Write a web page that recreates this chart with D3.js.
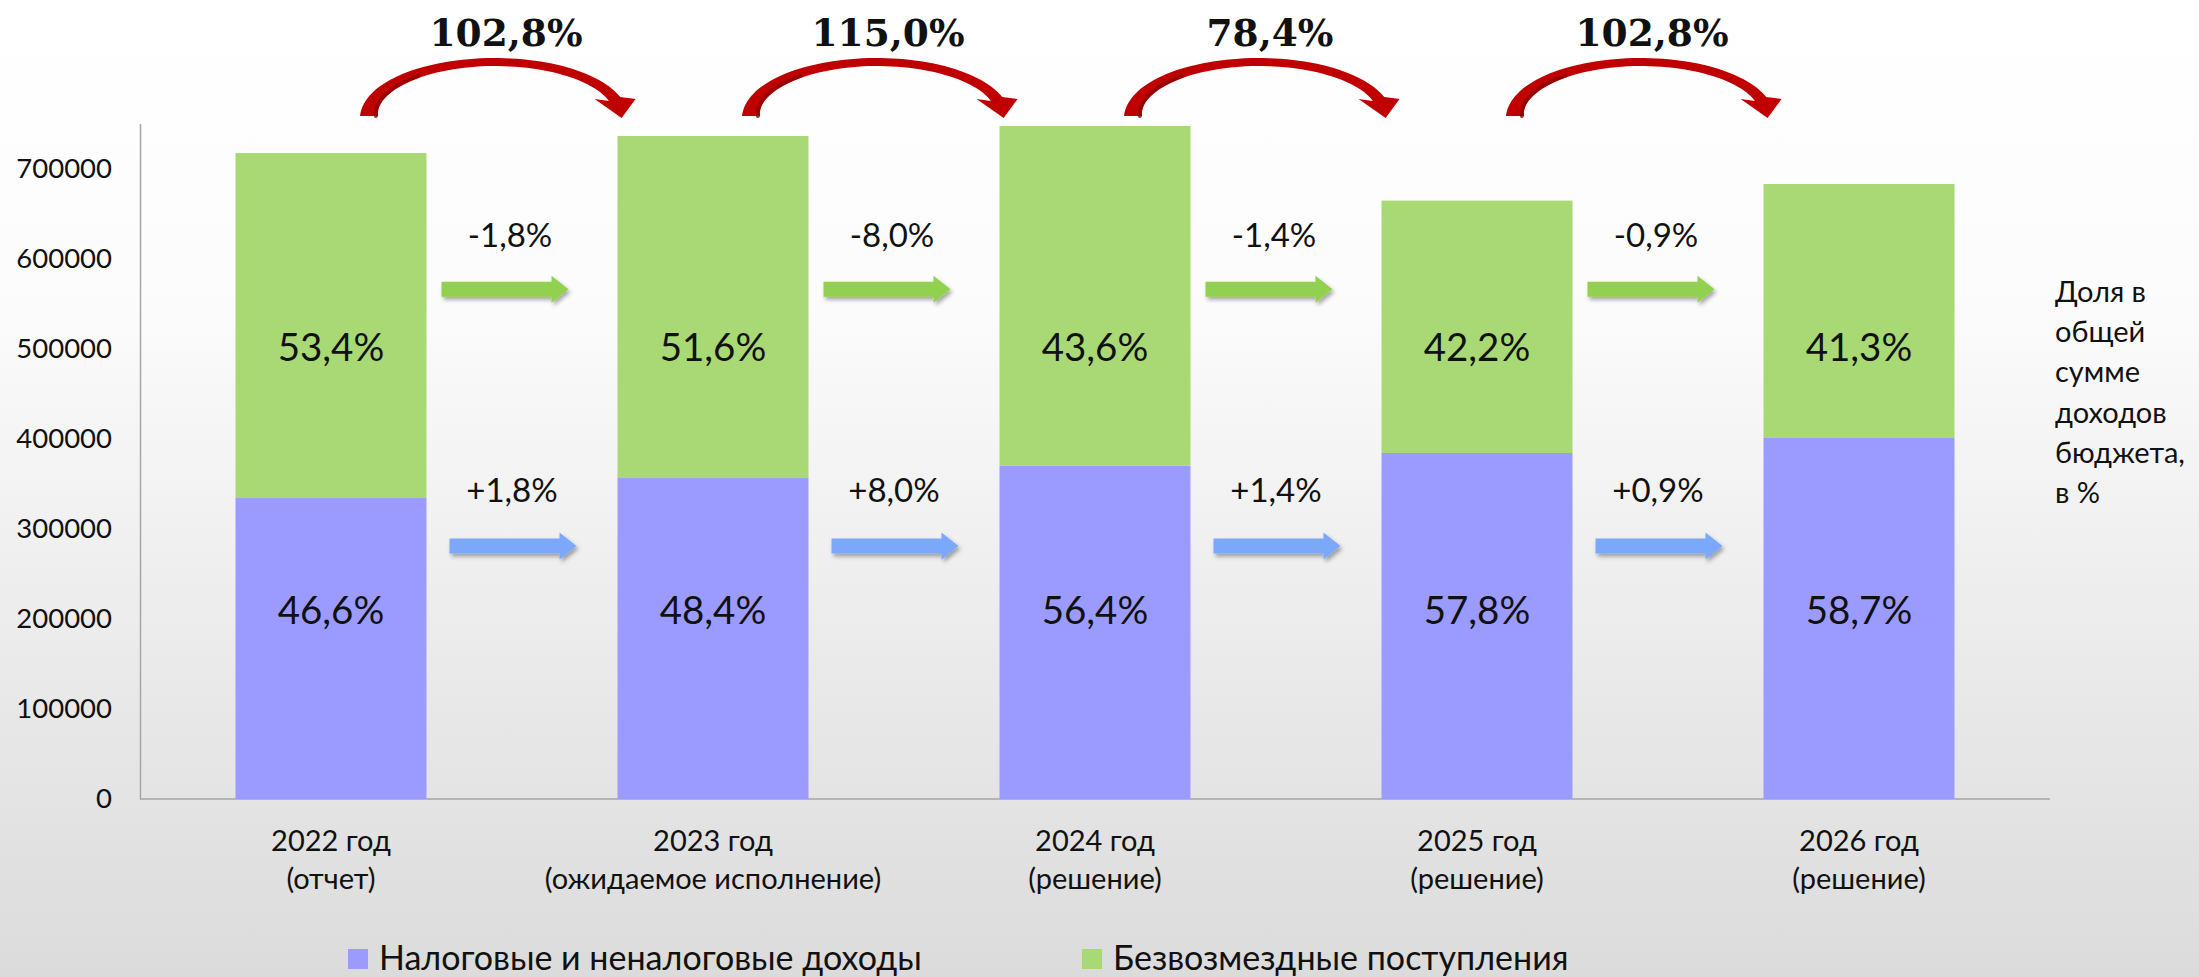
<!DOCTYPE html>
<html><head><meta charset="utf-8">
<script src="https://cdn.jsdelivr.net/npm/d3@7"></script>
<style>html,body{margin:0;padding:0;background:#fff;} svg{display:block;}</style>
</head><body>
<script>
// ---------- data ----------
const catLine1 = ["2022 год", "2023 год", "2024 год", "2025 год", "2026 год"];
const catLine2 = ["(отчет)", "(ожидаемое исполнение)", "(решение)", "(решение)", "(решение)"];
const taxRevenue = [334100, 356300, 370100, 384100, 400800];   // Налоговые и неналоговые доходы
const grantRevenue = [383000, 379700, 377000, 280200, 281900]; // Безвозмездные поступления
const taxShare = ["46,6%", "48,4%", "56,4%", "57,8%", "58,7%"];
const grantShare = ["53,4%", "51,6%", "43,6%", "42,2%", "41,3%"];
const grantChange = ["-1,8%", "-8,0%", "-1,4%", "-0,9%"];
const taxChange = ["+1,8%", "+8,0%", "+1,4%", "+0,9%"];
const totalGrowth = ["102,8%", "115,0%", "78,4%", "102,8%"];
const yTicks = [0, 100000, 200000, 300000, 400000, 500000, 600000, 700000];
const seriesNames = ["Налоговые и неналоговые доходы", "Безвозмездные поступления"];
const sideNote = ["Доля в", "общей", "сумме", "доходов", "бюджета,", "в %"];

// ---------- setup ----------
const W = 2199, H = 977;
const FONT = "Lato, 'Open Sans', sans-serif";
const colTax = "#9b9bff", colGrant = "#a9d974";
const colTaxArrow = "#7ba8fb", colGrantArrow = "#92d050", colRed = "#c00000";

const svg = d3.select("body").append("svg").attr("width", W).attr("height", H);
const defs = svg.append("defs");
const bg = defs.append("linearGradient").attr("id", "bg").attr("x1", 0).attr("y1", 0).attr("x2", 0).attr("y2", 1);
bg.append("stop").attr("offset", "0%").attr("stop-color", "#ffffff");
bg.append("stop").attr("offset", "30%").attr("stop-color", "#fcfcfc");
bg.append("stop").attr("offset", "100%").attr("stop-color", "#dbdbdb");
const sh = defs.append("filter").attr("id", "sh").attr("x", "-10%").attr("y", "-50%").attr("width", "130%").attr("height", "250%");
sh.append("feDropShadow").attr("dx", 2).attr("dy", 3).attr("stdDeviation", 2).attr("flood-color", "#000").attr("flood-opacity", 0.35);

svg.append("rect").attr("width", W).attr("height", H).attr("fill", "url(#bg)");

const x = d3.scaleBand().domain(catLine1).range([140, 2050]).paddingInner(0.5).paddingOuter(0.25);
const y = d3.scaleLinear().domain([0, 750000]).range([799, 123.4]);

// ---------- axes ----------
const yAxis = svg.append("g").attr("transform", "translate(140,0)")
  .call(d3.axisLeft(y).tickValues(yTicks).tickSize(0).tickPadding(28).tickFormat(d3.format("d")));
yAxis.select(".domain").attr("stroke", "#a6a6a6").attr("stroke-width", 1.5);
yAxis.selectAll("text").attr("font-family", FONT).attr("font-size", 27.5).attr("fill", "#111");

svg.append("line").attr("x1", 140).attr("x2", 2050).attr("y1", y(0)).attr("y2", y(0))
  .attr("stroke", "#a6a6a6").attr("stroke-width", 1.5);

// ---------- bars ----------
const rows = catLine1.map((c, i) => ({cat: c, tax: taxRevenue[i], grant: grantRevenue[i]}));
const stack = d3.stack().keys(["tax", "grant"])(rows);
const colors = [colTax, colGrant];
svg.append("g").selectAll("g").data(stack).join("g").attr("fill", (d, i) => colors[i])
  .selectAll("rect").data(d => d).join("rect")
  .attr("x", d => x(d.data.cat)).attr("width", x.bandwidth())
  .attr("y", d => y(d[1])).attr("height", d => y(d[0]) - y(d[1]));

// share labels
const cx = c => x(c) + x.bandwidth() / 2;
svg.append("g").selectAll("text").data(taxShare).join("text")
  .attr("x", (d, i) => cx(catLine1[i])).attr("y", y(210000)).attr("dy", "0.36em")
  .attr("text-anchor", "middle").attr("font-family", FONT).attr("font-size", 38.5).attr("fill", "#111").text(d => d);
svg.append("g").selectAll("text").data(grantShare).join("text")
  .attr("x", (d, i) => cx(catLine1[i])).attr("y", y(502000)).attr("dy", "0.36em")
  .attr("text-anchor", "middle").attr("font-family", FONT).attr("font-size", 38.5).attr("fill", "#111").text(d => d);

// ---------- category labels ----------
const xl = svg.append("g").selectAll("text").data(catLine1).join("text")
  .attr("text-anchor", "middle").attr("font-family", FONT).attr("font-size", 29).attr("fill", "#111");
xl.append("tspan").attr("x", d => cx(d)).attr("y", 851).text(d => d);
xl.append("tspan").attr("x", d => cx(d)).attr("y", 889).text((d, i) => catLine2[i]);

// ---------- change arrows between bars ----------
const gap = i => x(catLine1[i + 1]) - (x.step() - x.bandwidth()) / 2; // boundary between bars
function straightArrow(g, xc, yc, color) {
  const L = 127, hl = 17, st = 15, hh = 27;
  const x0 = xc - L / 2, x1 = xc + L / 2;
  g.append("path").attr("filter", "url(#sh)").attr("fill", color)
    .attr("d", `M${x0},${yc - st / 2}H${x1 - hl}V${yc - hh / 2}L${x1},${yc}L${x1 - hl},${yc + hh / 2}V${yc + st / 2}H${x0}Z`);
}
const ga = svg.append("g");
grantChange.forEach((t, i) => {
  straightArrow(ga, gap(i) - 17, y(566000), colGrantArrow);
  ga.append("text").attr("x", gap(i) - 12).attr("y", y(566000) - 42).attr("text-anchor", "middle")
    .attr("font-family", FONT).attr("font-size", 33).attr("fill", "#111").text(t);
});
taxChange.forEach((t, i) => {
  straightArrow(ga, gap(i) - 9, y(281000), colTaxArrow);
  ga.append("text").attr("x", gap(i) - 10).attr("y", y(281000) - 44).attr("text-anchor", "middle")
    .attr("font-family", FONT).attr("font-size", 33).attr("fill", "#111").text(t);
});

// ---------- curved red arrows on top ----------
function curvedArrow(g, ccx, ccy) {
  const rx = 126, ry = 54;
  const te = Math.asin(17 / ry);
  const thick = th => th >= Math.PI / 2
    ? 8 + 10 * Math.pow((th - Math.PI / 2) / (Math.PI / 2), 2)
    : 8 + 4 * Math.pow((Math.PI / 2 - th) / (Math.PI / 2 - te), 2);
  const N = 60, outer = [], inner = [];
  for (let k = 0; k <= N; k++) {
    const th = Math.PI - (Math.PI - te) * k / N;
    const t = thick(th) / 2;
    outer.push([ccx + (rx + t) * Math.cos(th), ccy - (ry + t) * Math.sin(th)]);
    inner.push([ccx + (rx - t) * Math.cos(th), ccy - (ry - t) * Math.sin(th)]);
  }
  const xc = ccx + rx * Math.cos(te), yb = ccy - ry * Math.sin(te);
  const p = d3.path();
  p.moveTo(...outer[0]);
  outer.forEach(pt => p.lineTo(...pt));
  p.lineTo(xc + 21, yb); p.lineTo(xc + 7, yb + 19); p.lineTo(xc - 20, yb);
  inner.slice().reverse().forEach(pt => p.lineTo(...pt));
  p.closePath();
  g.append("path").attr("d", p.toString()).attr("fill", colRed);
  // darker inner streak (3D look)
  const s = d3.path(), M = 20;
  for (let k = 0; k <= M; k++) {
    const th = Math.PI - 0.9 * k / M;
    const t = thick(th) / 2;
    const a = [ccx + (rx - t + 2) * Math.cos(th), ccy - (ry - t + 2) * Math.sin(th)];
    k === 0 ? s.moveTo(...a) : s.lineTo(...a);
  }
  g.append("path").attr("d", s.toString()).attr("fill", "none").attr("stroke", "#8e0000")
    .attr("stroke-width", 4).attr("stroke-linecap", "round").attr("opacity", 0.8);
}
const ra = svg.append("g");
totalGrowth.forEach((t, i) => {
  const c = gap(i) - 27;
  curvedArrow(ra, c, 116);
  ra.append("text").attr("x", c + 11).attr("y", 46).attr("text-anchor", "middle")
    .attr("font-family", "'DejaVu Serif', serif").attr("font-weight", "bold").attr("font-size", 37.5)
    .attr("fill", "#111").text(t);
});

// ---------- side note ----------
svg.append("g").selectAll("text").data(sideNote).join("text")
  .attr("x", 2055).attr("y", (d, i) => 302 + i * 40.2)
  .attr("font-family", FONT).attr("font-size", 29).attr("fill", "#111").text(d => d);

// ---------- legend ----------
const legX = [348, 1082];
const lg = svg.append("g").selectAll("g").data(seriesNames).join("g")
  .attr("transform", (d, i) => `translate(${legX[i]},0)`);
lg.append("rect").attr("x", 0).attr("y", 949).attr("width", 20).attr("height", 20).attr("fill", (d, i) => colors[i]);
lg.append("text").attr("x", 31).attr("y", 970).attr("font-family", FONT).attr("font-size", 34)
  .attr("fill", "#111").text(d => d);
</script>
</body></html>
